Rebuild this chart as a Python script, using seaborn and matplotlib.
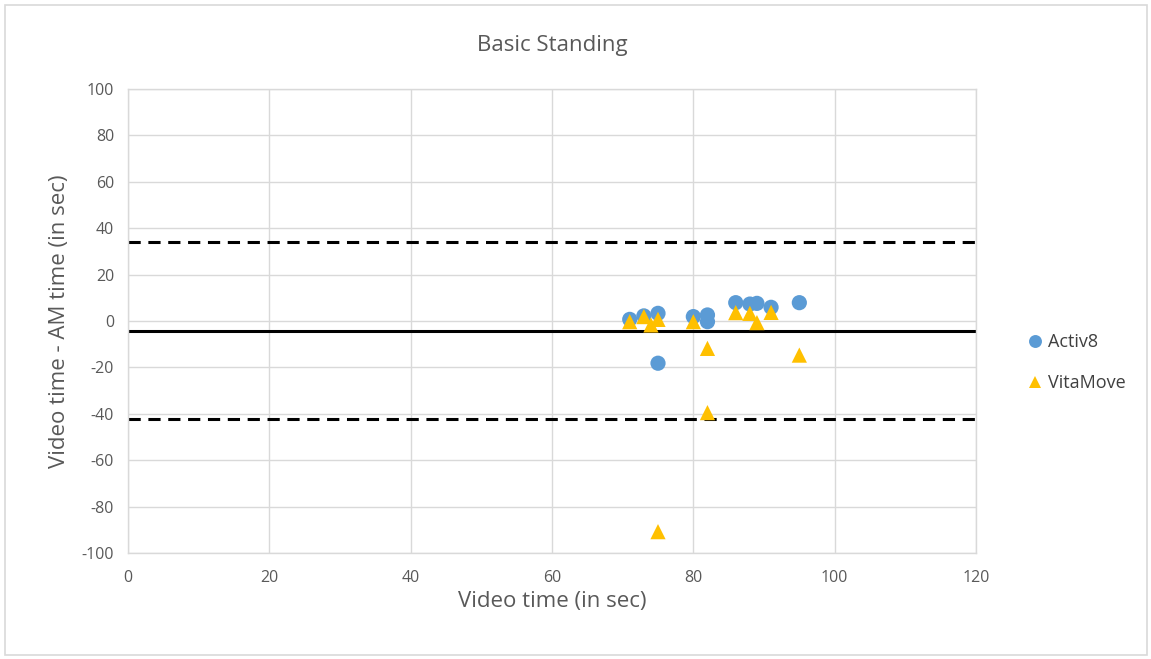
import matplotlib
matplotlib.use("Agg")
import matplotlib.pyplot as plt
import seaborn as sns
import pandas as pd
from matplotlib.patches import Rectangle

# Data
activ8_x = [71, 73, 75, 80, 82, 82, 86, 88, 89, 91, 95, 75]
activ8_y = [0.7, 2.2, 3.3, 1.9, 2.6, -0.3, 7.9, 7.3, 7.6, 5.9, 7.9, -18.2]
vitamove_x = [71, 73, 74, 75, 80, 86, 88, 89, 91, 82, 95, 82, 75]
vitamove_y = [-0.3, 1.9, -1.7, 0.7, -0.3, 3.6, 3.3, -0.7, 3.7, -11.8, -14.7, -39.5, -90.8]
mean_diff = -4.1
upper_loa = 34.1
lower_loa = -42.3
series_names = ["Activ8", "VitaMove"]

df = pd.DataFrame({
    "x": activ8_x + vitamove_x,
    "y": activ8_y + vitamove_y,
    "series": [series_names[0]] * len(activ8_x) + [series_names[1]] * len(vitamove_x),
})

sns.set_theme(style="white")
plt.rcParams["font.family"] = ["Open Sans", "DejaVu Sans"]
plt.rcParams["axes.unicode_minus"] = False

fig = plt.figure(figsize=(11.51, 6.59), dpi=100)
ax = fig.add_axes([128 / 1151, 1 - 553 / 659, 848 / 1151, 464 / 659])

fig.patches.append(Rectangle((5 / 1151, 4 / 659), 1142 / 1151, 650 / 659,
                             transform=fig.transFigure, fill=False,
                             edgecolor="#d9d9d9", linewidth=1.2))

ax.axhline(upper_loa, color="black", linestyle=(0, (4, 2.5)), linewidth=2.2, zorder=2)
ax.axhline(lower_loa, color="black", linestyle=(0, (4, 2.5)), linewidth=2.2, zorder=2)
ax.axhline(mean_diff, color="black", linewidth=2.2, zorder=2)

sns.scatterplot(data=df, x="x", y="y", hue="series", style="series",
                palette={"Activ8": "#5B9BD5", "VitaMove": "#FFC000"},
                markers={"Activ8": "o", "VitaMove": "^"},
                s=120, linewidth=0, ax=ax, zorder=3)

ax.set_xlim(0, 120)
ax.set_ylim(-100, 100)
ax.set_xticks(range(0, 121, 20))
ax.set_yticks(range(-100, 101, 20))
ax.grid(True, color="#d9d9d9", linewidth=1)
ax.set_axisbelow(True)
for s in ax.spines.values():
    s.set_color("#d9d9d9")
    s.set_linewidth(1)
ax.tick_params(axis="both", colors="#595959", labelsize=11.5, length=0)
ax.tick_params(axis="x", pad=12)
ax.tick_params(axis="y", pad=10)
ax.set_xlabel("Video time (in sec)", fontsize=16, color="#595959", labelpad=4)
ax.set_ylabel("Video time - AM time (in sec)", fontsize=16, color="#595959", labelpad=8)
fig.text((128 + 976) / 2 / 1151, 1 - 45 / 659, "Basic Standing", ha="center", va="center",
         fontsize=16, color="#595959")

leg = ax.legend(loc="center left", bbox_to_anchor=(1.051, 0.41), frameon=False,
                fontsize=13, labelspacing=1.3, handletextpad=0.2, handlelength=1.0,
                borderaxespad=0, markerscale=0.85)
for t in leg.get_texts():
    t.set_color("#404040")

fig.savefig("out.png", dpi=100)
